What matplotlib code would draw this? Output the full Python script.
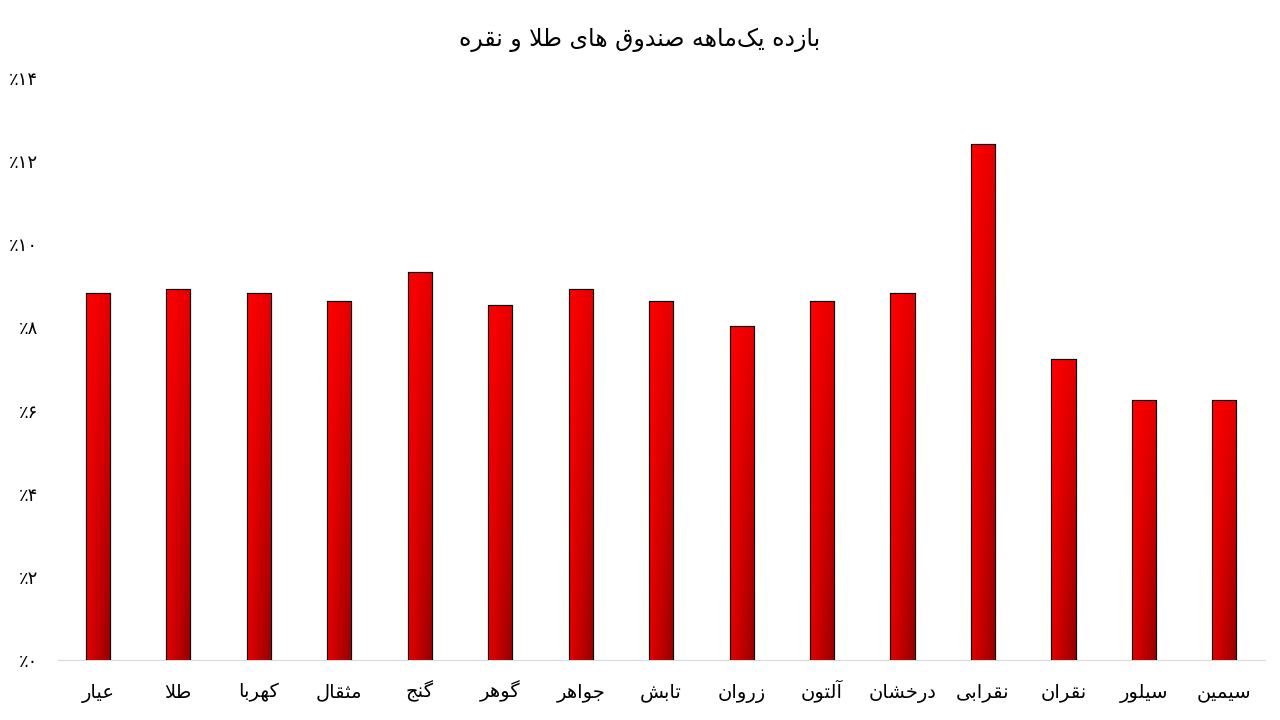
import numpy as np
import matplotlib
matplotlib.use("Agg")
import matplotlib.pyplot as plt

# Daten
funds = ["عیار", "طلا", "کهربا", "مثقال", "گنج", "گوهر", "جواهر", "تابش",
         "زروان", "آلتون", "درخشان", "نقرابی", "نقران", "سیلور", "سیمین"]
returns = [8.83, 8.92, 8.83, 8.64, 9.33, 8.54, 8.92, 8.64,
           8.03, 8.64, 8.83, 12.41, 7.24, 6.25, 6.25]
yticks = [0, 2, 4, 6, 8, 10, 12, 14]
title = "بازده یک‌ماهه صندوق های طلا و نقره"

# Formen: isoliert, final, initial, medial
FORMS = {
    "ا": (0xFE8D, 0xFE8E), "آ": (0xFE81, 0xFE82),
    "ب": (0xFE8F, 0xFE90, 0xFE91, 0xFE92), "ت": (0xFE95, 0xFE96, 0xFE97, 0xFE98),
    "ث": (0xFE99, 0xFE9A, 0xFE9B, 0xFE9C), "ج": (0xFE9D, 0xFE9E, 0xFE9F, 0xFEA0),
    "خ": (0xFEA5, 0xFEA6, 0xFEA7, 0xFEA8), "د": (0xFEA9, 0xFEAA),
    "ر": (0xFEAD, 0xFEAE), "ز": (0xFEAF, 0xFEB0),
    "س": (0xFEB1, 0xFEB2, 0xFEB3, 0xFEB4), "ش": (0xFEB5, 0xFEB6, 0xFEB7, 0xFEB8),
    "ص": (0xFEB9, 0xFEBA, 0xFEBB, 0xFEBC), "ط": (0xFEC1, 0xFEC2, 0xFEC3, 0xFEC4),
    "ع": (0xFEC9, 0xFECA, 0xFECB, 0xFECC), "ق": (0xFED5, 0xFED6, 0xFED7, 0xFED8),
    "ل": (0xFEDD, 0xFEDE, 0xFEDF, 0xFEE0), "م": (0xFEE1, 0xFEE2, 0xFEE3, 0xFEE4),
    "ن": (0xFEE5, 0xFEE6, 0xFEE7, 0xFEE8), "ه": (0xFEE9, 0xFEEA, 0xFEEB, 0xFEEC),
    "و": (0xFEED, 0xFEEE), "ی": (0xFBFC, 0xFBFD, 0xFBFE, 0xFBFF),
    "ک": (0xFB8E, 0xFB8F, 0xFB90, 0xFB91), "گ": (0xFB92, 0xFB93, 0xFB94, 0xFB95),
}
LAM_ALEF = {"ا": (0xFEFB, 0xFEFC), "آ": (0xFEF5, 0xFEF6)}


def shape(text):
    # einfache Formung fuer persischen Text, danach umdrehen (RTL)
    chars = list(text)
    out = []
    i = 0
    n = len(chars)

    def joins_left(c):
        return c in FORMS and len(FORMS[c]) == 4

    while i < n:
        c = chars[i]
        if c == "\u200c":
            i += 1
            continue
        if c not in FORMS:
            out.append(c)
            i += 1
            continue
        prev = chars[i - 1] if i > 0 else None
        from_right = prev is not None and joins_left(prev)
        if c == "ل" and i + 1 < n and chars[i + 1] in LAM_ALEF:
            f = LAM_ALEF[chars[i + 1]]
            out.append(chr(f[1] if from_right else f[0]))
            i += 2
            continue
        nxt = chars[i + 1] if i + 1 < n else None
        to_left = joins_left(c) and nxt in FORMS
        f = FORMS[c]
        if from_right and to_left:
            g = f[3]
        elif to_left:
            g = f[2]
        elif from_right:
            g = f[1]
        else:
            g = f[0]
        out.append(chr(g))
        i += 1
    return "".join(out)[::-1]


def fa_num(v):
    return "".join("۰۱۲۳۴۵۶۷۸۹"[int(d)] for d in str(v))


plt.rcParams['font.family'] = ['DejaVu Sans']

fig = plt.figure(figsize=(12.8, 7.2), dpi=100)
ax = fig.add_axes([0.045, 0.0833, 0.943, 0.8084])

x = np.arange(len(funds))
bars = ax.bar(x, returns, width=0.3, color="#ee0000", edgecolor="black",
              linewidth=0.8, zorder=2)

# Farbverlauf in den Balken
gx = np.linspace(0, 1, 40)
gy = np.linspace(0, 1, 200)
GX, GY = np.meshgrid(gx, gy)
shade = 1.0 - 0.10 * GX - 0.10 * GY - 0.22 * GX * GY
img = np.zeros((len(gy), len(gx), 3))
img[..., 0] = shade
for b in bars:
    x0, w, h = b.get_x(), b.get_width(), b.get_height()
    im = ax.imshow(img, extent=[x0, x0 + w, 0, h], origin="upper",
                   aspect="auto", zorder=2.5, interpolation="bilinear")
    im.set_clip_path(b)
    ax.add_patch(plt.Rectangle((x0, 0), w, h, fill=False, edgecolor="black",
                               linewidth=0.8, zorder=3))

ax.set_xlim(-0.5, len(funds) - 0.5)
ax.set_ylim(0, 14)
ax.set_xticks(x)
ax.set_xticklabels([shape(f) for f in funds], fontsize=14, va="baseline")
ax.set_yticks(yticks)
ax.set_yticklabels(["٪" + fa_num(v) for v in yticks], fontsize=13)
ax.tick_params(axis="both", length=0)
ax.tick_params(axis="x", pad=27)
ax.tick_params(axis="y", pad=14)
for s in ["top", "right", "left"]:
    ax.spines[s].set_visible(False)
ax.spines["bottom"].set_color("#d9d9d9")

fig.suptitle(shape(title), fontsize=17, y=0.962)

fig.savefig("out.png", dpi=100)
